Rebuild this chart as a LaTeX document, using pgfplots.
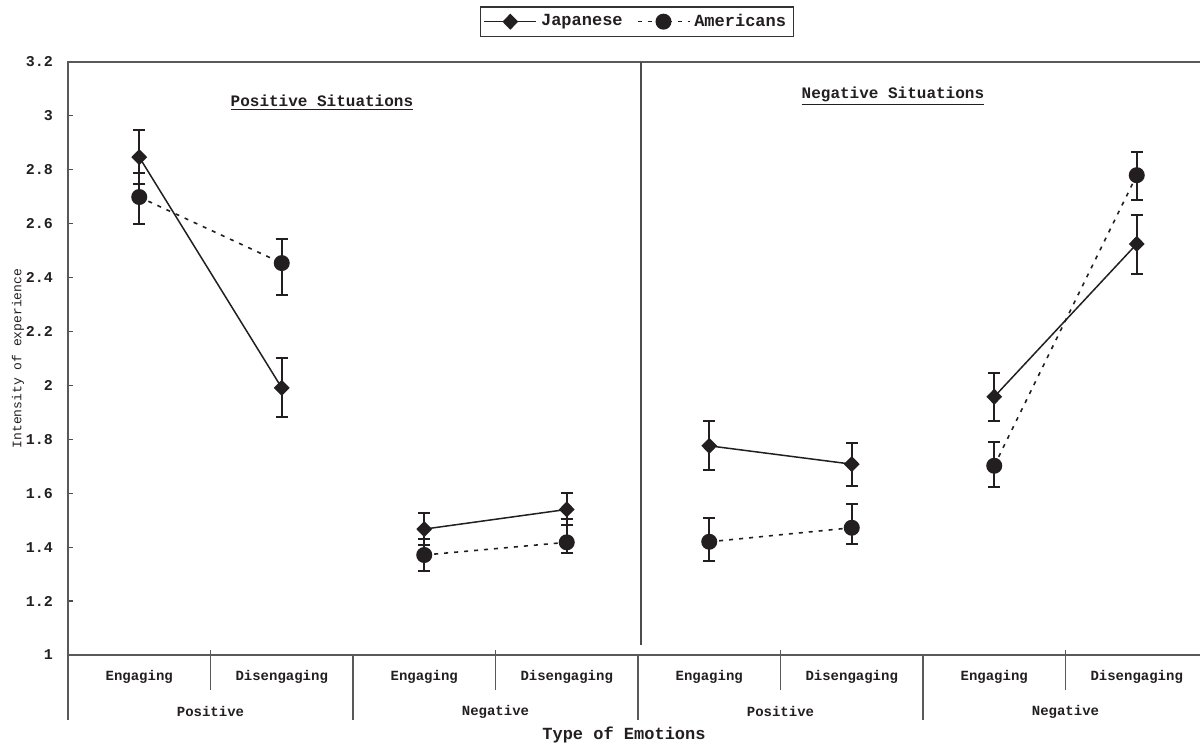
\documentclass[border=0pt]{standalone}
\usepackage{pgfplots}
\pgfplotsset{compat=1.18}
\usepackage{fontspec}
\setmainfont{Liberation Mono}
\definecolor{ink}{RGB}{35,31,32}
\pgfplotsset{
  jap/.style={ink, line width=0.75pt, mark=diamond*, mark size=3.5pt,
    mark options={solid, xscale=1.3, fill=ink, draw=ink},
    error bars/.cd, y dir=both, y explicit,
    error bar style={line width=1pt, ink, solid},
    error mark options={rotate=90, line width=1pt, mark size=3pt, ink, solid},
    /pgfplots/.cd},
  ame/.style={ink, line width=0.8pt, dash pattern=on 2pt off 3pt, mark=*, mark size=3.6pt,
    mark options={solid, fill=ink, draw=ink},
    error bars/.cd, y dir=both, y explicit,
    error bar style={line width=1pt, ink, solid},
    error mark options={rotate=90, line width=1pt, mark size=3pt, ink, solid},
    /pgfplots/.cd},
}
\begin{document}
\begin{tikzpicture}
\useasboundingbox (0,0) rectangle (600pt,374pt);
\begin{axis}[
  at={(34pt,46.5pt)}, anchor=south west,
  scale only axis, width=570pt, height=296.5pt,
  xmin=0.5, xmax=8.5, ymin=1, ymax=3.2,
  ytick={1,1.2,1.4,1.6,1.8,2,2.2,2.4,2.6,2.8,3,3.2},
  ytick pos=left, tick align=inside, major tick length=2.5pt,
  ytick style={draw=black!70, line width=0.6pt},
  xtick={1,2,3,4,5,6,7,8},
  xticklabels={Engaging,Disengaging,Engaging,Disengaging,Engaging,Disengaging,Engaging,Disengaging},
  xtick style={draw=none},
  xticklabel style={anchor=center, yshift=-11pt, font=\fontsize{7}{8}\selectfont\bfseries, text=ink},
  yticklabel style={xshift=-4pt, font=\fontsize{7.5}{9}\selectfont\bfseries, text=ink},
  /pgf/number format/assume math mode=true,
  axis line style={draw=black!65, line width=0.9pt},
  clip=false,
  xlabel={Type of Emotions},
  xlabel style={at={(axis description cs:0.4877,-0.1349)}, anchor=center, font=\fontsize{8.5}{10}\selectfont\bfseries, text=ink},
  ylabel={Intensity of experience},
  ylabel style={at={(axis description cs:-0.0439,0.5)}, anchor=center, font=\fontsize{6.5}{8}\selectfont, text=ink},
  legend style={at={(axis description cs:0.499,1.068)}, anchor=center, draw=black!80, line width=0.6pt,
    font=\fontsize{8.5}{10}\selectfont\bfseries, text=ink, legend columns=2, inner sep=1.5pt,
    /tikz/every even column/.append style={column sep=5pt}},
  legend image code/.code={\draw[mark repeat=2,mark phase=2,#1] plot coordinates {(0pt,0pt)(13pt,0pt)(26pt,0pt)};},
]
% Japanese pairs
\addplot[jap] coordinates {(1,2.847) += (0,0.100) -= (0,0.100) (2,1.991) += (0,0.111) -= (0,0.108)};
\addlegendentry{Japanese}
\addplot[ame] coordinates {(1,2.699) += (0,0.089) -= (0,0.100) (2,2.454) += (0,0.089) -= (0,0.119)};
\addlegendentry{Americans}
\addplot[forget plot, jap] coordinates {(3,1.467) += (0,0.061) -= (0,0.059) (4,1.540) += (0,0.062) -= (0,0.058)};
\addplot[forget plot, ame] coordinates {(3,1.371) += (0,0.058) -= (0,0.058) (4,1.418) += (0,0.088) -= (0,0.041)};
\addplot[forget plot, jap] coordinates {(5,1.776) += (0,0.092) -= (0,0.089) (6,1.708) += (0,0.080) -= (0,0.080)};
\addplot[forget plot, ame] coordinates {(5,1.420) += (0,0.090) -= (0,0.070) (6,1.472) += (0,0.088) -= (0,0.060)};
\addplot[forget plot, jap] coordinates {(7,1.958) += (0,0.089) -= (0,0.090) (8,2.525) += (0,0.108) -= (0,0.110)};
\addplot[forget plot, ame] coordinates {(7,1.702) += (0,0.089) -= (0,0.079) (8,2.780) += (0,0.087) -= (0,0.092)};

% panel divider
\draw[black!70, line width=0.7pt] (axis cs:4.52,3.2) -- (axis cs:4.52,1.037);
% category separators
\draw[black!65, line width=0.8pt] (axis cs:0.5,1) -- ++(0pt,-32.5pt);
\draw[black!65, line width=0.8pt] (axis cs:2.5,1) -- ++(0pt,-32.5pt);
\draw[black!65, line width=0.8pt] (axis cs:4.5,1) -- ++(0pt,-32.5pt);
\draw[black!65, line width=0.8pt] (axis cs:6.5,1) -- ++(0pt,-32.5pt);
\draw[black!65, line width=0.8pt] (axis cs:8.5,1) -- ++(0pt,-32.5pt);
\draw[black!65, line width=0.8pt] ([yshift=2.5pt]axis cs:1.5,1) -- ++(0pt,-20pt);
\draw[black!65, line width=0.8pt] ([yshift=2.5pt]axis cs:3.5,1) -- ++(0pt,-20pt);
\draw[black!65, line width=0.8pt] ([yshift=2.5pt]axis cs:5.5,1) -- ++(0pt,-20pt);
\draw[black!65, line width=0.8pt] ([yshift=2.5pt]axis cs:7.5,1) -- ++(0pt,-20pt);
% group labels
\node[font=\fontsize{7}{8}\selectfont\bfseries, text=ink] at ([yshift=-28.5pt]axis cs:1.5,1) {Positive};
\node[font=\fontsize{7}{8}\selectfont\bfseries, text=ink] at ([yshift=-28.5pt]axis cs:3.5,1) {Negative};
\node[font=\fontsize{7}{8}\selectfont\bfseries, text=ink] at ([yshift=-28.5pt]axis cs:5.5,1) {Positive};
\node[font=\fontsize{7}{8}\selectfont\bfseries, text=ink] at ([yshift=-28.5pt]axis cs:7.5,1) {Negative};
% panel titles
\node[font=\fontsize{8}{10}\selectfont\bfseries, text=ink] at (axis cs:2.282,3.050) {\underline{Positive Situations}};
\node[font=\fontsize{8}{10}\selectfont\bfseries, text=ink] at (axis cs:6.289,3.074) {\underline{Negative Situations}};
\end{axis}
\end{tikzpicture}
\end{document}
